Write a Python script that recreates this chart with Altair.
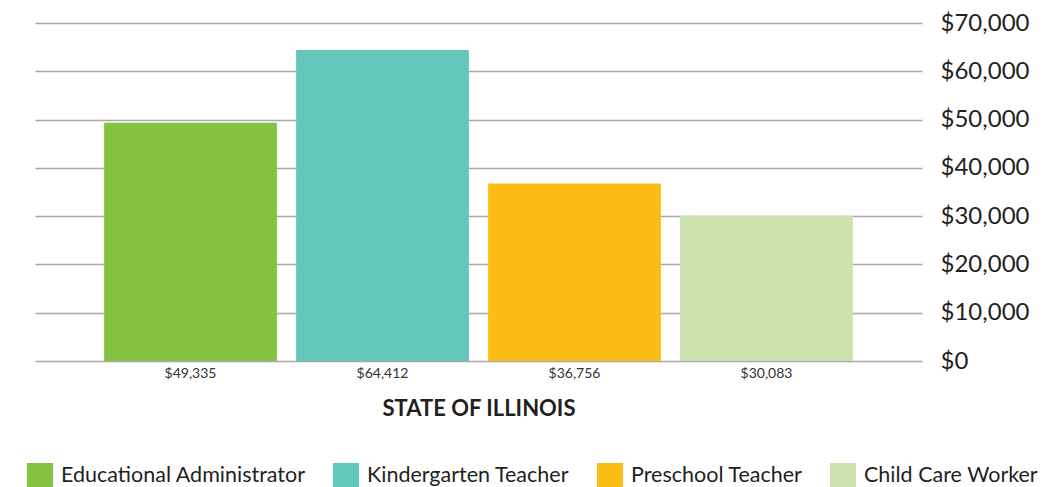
import altair as alt
import pandas as pd

categories = ["Educational Administrator", "Kindergarten Teacher", "Preschool Teacher", "Child Care Worker"]
values = [49335, 64412, 36756, 30083]
value_labels = ["$49,335", "$64,412", "$36,756", "$30,083"]
colors = ["#84C341", "#63C7BC", "#FBBD14", "#CCE3AF"]
y_ticks = [0, 10000, 20000, 30000, 40000, 50000, 60000, 70000]

df = pd.DataFrame({"category": categories, "value": values, "label": value_labels})

FONT = "Lato"

chart = alt.Chart(df).mark_bar().encode(
    x=alt.X("label:N", sort=value_labels,
            scale=alt.Scale(paddingInner=0.1, paddingOuter=0.36),
            axis=alt.Axis(title="STATE OF ILLINOIS", labelAngle=0, labelFontSize=14,
                          labelColor="#333333", labelFont=FONT, labelPadding=5,
                          ticks=False, domain=False, grid=False,
                          titleFont=FONT, titleFontSize=22, titleFontWeight="bold",
                          titleColor="#231F20", titlePadding=18)),
    y=alt.Y("value:Q", scale=alt.Scale(domain=[0, 70000], nice=False),
            axis=alt.Axis(orient="right", values=y_ticks, format="$,.0f", title=None,
                          labelFontSize=24, labelColor="#231F20", labelFont=FONT,
                          ticks=False, domain=False, labelPadding=18,
                          grid=True, gridColor="#A8A8A8", gridWidth=1.5)),
    color=alt.Color("category:N", sort=categories,
                    scale=alt.Scale(domain=categories, range=colors),
                    legend=alt.Legend(title=None, orient="none", legendX=-8, legendY=440,
                                      direction="horizontal", symbolType="square",
                                      symbolSize=676, symbolStrokeWidth=0,
                                      labelFontSize=21.5, labelFont=FONT, labelColor="#231F20",
                                      labelOffset=8, columnPadding=27, labelLimit=400)),
).properties(
    width=887, height=338,
    padding={"left": 27, "top": 15, "right": 119, "bottom": 130},
    autosize=alt.AutoSizeParams(type="none"),
).configure_view(stroke=None)

chart.save("out.html", embed_options={"renderer": "svg", "actions": False})
